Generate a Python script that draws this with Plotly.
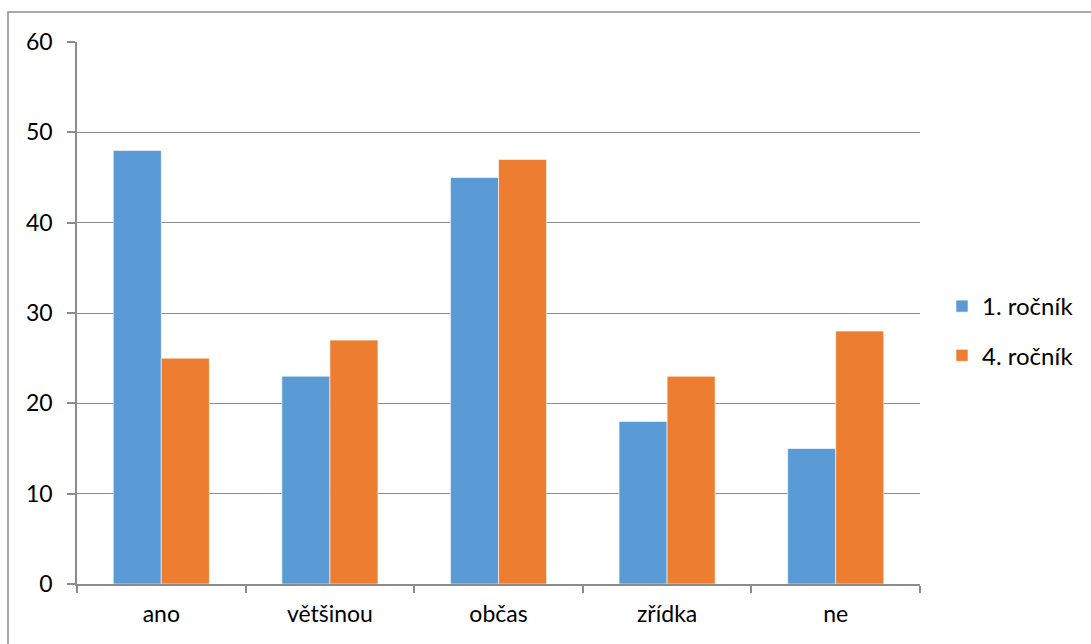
import plotly.graph_objects as go

categories = ["ano", "většinou", "občas", "zřídka", "ne"]
rocnik_1 = [48, 23, 45, 18, 15]
rocnik_4 = [25, 27, 47, 23, 28]
y_ticks = [0, 10, 20, 30, 40, 50, 60]

FONT = "Lato, Liberation Sans, sans-serif"
GRID = "#8c8c8c"

fig = go.Figure()
fig.add_trace(go.Bar(
    x=categories, y=rocnik_1, name="1. ročník",
    marker=dict(color="#5B9BD5", line=dict(color="#ffffff", width=0.6)),
    legendgroup="a",
))
fig.add_trace(go.Bar(
    x=categories, y=rocnik_4, name="4. ročník",
    marker=dict(color="#ED7D31", line=dict(color="#ffffff", width=0.6)),
    legendgroup="b",
))

W, H = 1091, 644
L, R, T, B = 77, 171, 42, 60
pw, ph = W - L - R, H - T - B

def px_x(p):
    return (p - L) / pw

def px_y(p):
    return (H - B - p) / ph

fig.update_layout(
    width=W, height=H,
    margin=dict(l=L, r=R, t=T, b=B),
    paper_bgcolor="white", plot_bgcolor="white",
    barmode="group", bargap=0.43, bargroupgap=0,
    font=dict(family=FONT, size=23, color="#000000"),
    showlegend=True,
    legend=dict(
        x=px_x(942), y=px_y(331), xanchor="left", yanchor="middle",
        font=dict(family=FONT, size=24, color="#000000"),
        tracegroupgap=15, traceorder="grouped",
        bgcolor="rgba(0,0,0,0)",
    ),
    xaxis=dict(
        showline=True, linecolor=GRID, linewidth=1.5,
        ticks="outside", tickson="boundaries", ticklen=7, tickcolor=GRID, tickwidth=1.5,
        showgrid=False, ticklabelstandoff=9,
        tickfont=dict(family=FONT, size=23),
        fixedrange=True,
    ),
    yaxis=dict(
        range=[0, 60], tickvals=y_ticks,
        showline=True, linecolor=GRID, linewidth=1.5,
        ticks="outside", ticklen=8, tickcolor=GRID, tickwidth=1.5,
        showgrid=True, gridcolor=GRID, gridwidth=1.2,
        zeroline=False, ticklabelstandoff=10,
        tickfont=dict(family=FONT, size=23),
        fixedrange=True,
    ),
    shapes=[dict(
        type="rect", xref="paper", yref="paper",
        x0=px_x(8), x1=px_x(1100), y0=px_y(660), y1=px_y(12),
        line=dict(color="#8c8c8c", width=1.5), fillcolor="rgba(0,0,0,0)",
        layer="below",
    )],
)

fig.write_html("out.html")
